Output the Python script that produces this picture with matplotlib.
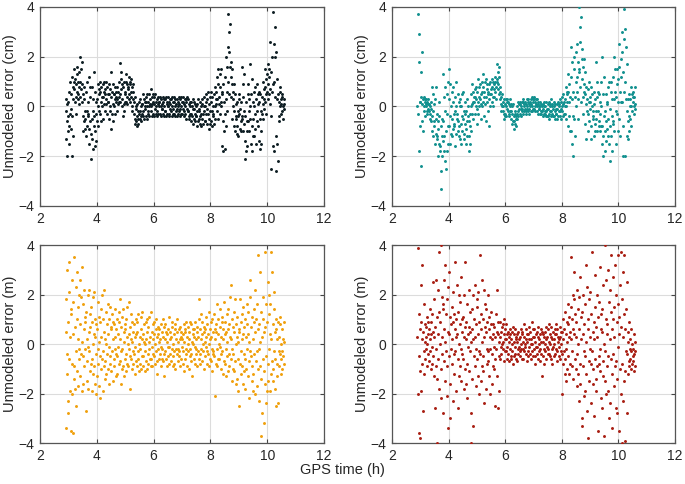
import numpy as np
import matplotlib
matplotlib.use("Agg")
import matplotlib.pyplot as plt

plt.rcParams['font.family'] = ['Liberation Sans', 'DejaVu Sans']

# GPS time span of the record (h); samples are evenly spaced in time
t_start, t_end = 2.9, 10.6

# unmodeled error, one row per 0.1 h, values in time order
err_top_left = [  # cm
    [-0.2, -1.3, 0.3, -2.0, -0.6, 0.1, -1.0, -0.4],
    [0.2, -0.8, -1.5, 0.6, -0.3, 1.0, -0.1, -0.9],
    [0.5, 1.2, -0.4, -2.0, 0.8, -1.2, 0.3, 1.0],
    [0.7, 1.5, 0.2, 1.1, -0.3, 0.9, 0.4, 1.3],
    [0.6, 1.6, 0.3, 1.0, 0.5, 1.4, 0.1, 0.8],
    [1.0, 2.0, 0.4, 1.5, 0.7, 1.8, 0.2, 0.9],
    [0.5, -0.4, -1.0, 0.3, -0.6, 0.8, -0.2, -0.9],
    [-0.5, 0.6, -1.2, -0.2, 1.0, -0.8, 0.2, -0.4],
    [-0.3, 1.2, -0.9, -1.5, 0.4, -0.6, 0.8, -1.1],
    [-2.1, -0.5, 0.8, -1.3, -0.2, -1.7, 0.3, -0.8],
    [1.4, -0.4, -1.6, 0.6, -1.0, 0.2, -1.4, -0.3],
    [0.3, -0.6, 0.9, 0.0, -0.8, 0.5, -0.2, 0.7],
    [0.6, -0.3, 1.0, 0.2, -0.6, 0.8, 0.0, 0.4],
    [0.4, 0.9, -0.5, 0.6, 0.1, 1.0, -0.2, 0.5],
    [0.7, 0.1, 1.0, 0.3, -0.3, 0.8, 0.5, 0.2],
    [0.2, 0.9, -0.5, 0.5, 0.0, 0.7, -0.2, 0.4],
    [1.4, -0.9, 0.6, -0.3, 0.9, 0.1, -0.6, 0.5],
    [0.5, 0.0, 0.8, 0.3, -0.3, 0.6, 0.2, 0.4],
    [0.3, 0.8, -0.2, 0.6, 0.1, 1.0, 0.4, 0.2],
    [0.5, 1.75, 0.2, 1.1, 0.7, 1.4, 0.0, 0.9],
    [0.3, -0.4, 0.8, 0.1, 1.0, -0.2, 0.5, 0.2],
    [0.6, 1.0, 0.2, 1.3, 0.4, 0.9, 0.1, 0.7],
    [0.8, 0.3, 1.2, 0.5, 1.0, 0.2, 0.9, 0.6],
    [0.4, 1.1, 0.0, 0.8, -0.2, 0.6, 0.9, 0.3],
    [0.2, -0.3, -0.7, 0.4, -0.5, -0.1, -0.6, 0.0],
    [-0.4, -0.8, 0.1, -0.5, -0.2, -0.7, 0.2, -0.3],
    [-0.2, -0.5, 0.3, -0.4, 0.0, -0.6, 0.1, -0.3],
    [0.1, -0.4, 0.5, -0.2, 0.3, -0.5, 0.0, 0.2],
    [-0.1, 0.4, -0.4, 0.2, -0.5, 0.5, 0.0, -0.2],
    [0.2, -0.3, 0.5, 0.0, -0.4, 0.3, 0.1, -0.2],
    [0.7, 0.0, -0.4, 0.4, 0.1, -0.3, 0.5, 0.2],
    [0.1, -0.4, 0.4, -0.1, 0.5, -0.3, 0.2, 0.0],
    [-0.2, 0.3, -0.4, 0.1, 0.4, -0.3, 0.0, 0.2],
    [0.2, -0.3, 0.4, 0.0, -0.4, 0.3, -0.1, 0.1],
    [-0.1, 0.4, -0.3, 0.2, -0.4, 0.3, 0.0, -0.2],
    [0.3, -0.2, 0.4, -0.4, 0.1, 0.2, -0.3, 0.0],
    [0.0, 0.4, -0.3, 0.2, -0.4, 0.3, -0.1, 0.1],
    [-0.2, 0.3, 0.0, -0.4, 0.4, -0.1, 0.2, -0.3],
    [0.2, -0.3, 0.4, 0.0, -0.4, 0.3, -0.2, 0.1],
    [-0.1, 0.3, -0.4, 0.2, 0.0, -0.3, 0.4, -0.2],
    [0.1, -0.4, 0.3, -0.1, 0.4, -0.3, 0.0, 0.2],
    [-0.3, 0.2, -0.1, 0.4, -0.4, 0.1, -0.2, 0.3],
    [0.0, -0.3, 0.3, -0.5, 0.2, -0.1, 0.4, -0.2],
    [-0.2, 0.3, -0.4, 0.1, -0.5, 0.2, 0.0, -0.3],
    [-0.3, 0.2, -0.6, 0.0, -0.4, 0.3, -0.7, -0.1],
    [-0.1, -0.5, 0.2, -0.3, -0.6, 0.1, -0.4, 0.0],
    [-0.4, 0.1, -0.8, -0.2, 0.3, -0.6, -0.1, -0.5],
    [-0.2, -0.7, 0.2, -0.4, 0.0, -0.8, -0.3, 0.1],
    [-0.5, 0.3, -0.3, -0.7, 0.0, -0.2, 0.4, -0.6],
    [0.0, -0.6, 0.5, -0.3, 0.2, -0.7, -0.1, 0.3],
    [-0.3, 0.6, -0.9, 0.1, -0.5, 0.4, -0.2, -0.7],
    [0.2, -0.6, 0.6, -0.2, -0.8, 0.4, 0.0, -0.4],
    [-0.3, 0.5, -0.7, 0.8, 0.0, -0.5, 0.3, 0.1],
    [0.6, -0.2, 1.2, 0.3, -0.5, 0.9, 1.5, 0.1],
    [0.4, 1.3, -0.3, 0.8, 0.2, 1.5, 0.0, 0.6],
    [-1.6, 0.5, -0.6, -1.8, 0.9, -1.0, 0.2, -0.3],
    [1.2, -1.7, 2.0, 0.3, -0.8, 1.6, 0.6, -0.2],
    [2.4, 3.7, 1.0, 3.0, 0.5, 2.2, 3.3, 1.6],
    [1.8, 0.4, 1.2, -0.5, 0.9, 1.5, 0.0, 0.6],
    [0.3, -0.8, 0.9, -0.2, -1.0, 0.5, -0.4, 0.1],
    [-0.5, -1.1, 0.2, -0.8, -0.2, -1.2, -0.4, 0.3],
    [-0.3, 0.5, -0.9, -0.1, -0.6, 0.2, -1.0, -0.4],
    [1.6, -0.5, 0.4, -1.0, 0.9, -0.2, 1.3, -0.7],
    [-1.4, -2.1, -0.4, -1.8, 0.2, -1.0, -0.6, -1.6],
    [0.5, -0.6, 0.9, -0.2, -1.0, 0.3, 0.0, -0.5],
    [1.7, -1.5, 0.5, -1.8, 1.1, -0.8, 0.2, -1.2],
    [-0.5, 0.6, -1.2, 0.0, -0.9, 0.8, -0.3, -1.5],
    [0.3, -0.6, 0.9, -0.2, 0.5, -0.8, 0.1, 0.6],
    [-1.4, 0.2, -1.7, -0.5, 0.5, -1.0, -0.2, -1.5],
    [0.4, -0.3, 1.0, 0.1, -0.5, 0.7, 0.3, -0.1],
    [0.8, 0.2, 1.5, 0.5, -0.3, 1.1, 0.6, 1.3],
    [0.9, 1.7, 0.3, 1.2, 0.5, 1.5, 0.1, 0.7],
    [2.6, -0.4, 1.4, -2.5, 0.6, 2.0, -1.6, 0.9],
    [3.8, 1.0, 2.5, -1.8, 3.2, 0.4, 2.0, -1.2],
    [2.2, -2.6, 0.3, -1.5, 1.1, -2.2, 0.5, -0.6],
    [0.2, -0.4, 0.6, 0.0, 0.8, -0.3, 0.3, 0.1],
    [0.4, -0.2, 0.5, 0.0, -0.5, 0.3, 0.1, -0.1],
]

err_top_right = [  # cm
    [0.0, 3.7, -0.3, 2.9, -1.8, 1.8, 0.2, -0.8],
    [0.2, -2.4, 0.4, 1.4, -0.6, 0.1, 2.2, -1.0],
    [0.3, -0.2, 0.4, 0.0, 0.2, -0.4, 0.3, 0.1],
    [0.0, 0.3, -0.3, 0.2, -0.2, 0.1, -0.1, 0.3],
    [-0.2, 0.1, -0.5, 0.0, -0.3, 0.2, -0.6, -0.1],
    [-0.4, 0.8, -1.0, -0.2, 0.5, -1.2, -0.6, 0.1],
    [-0.8, 0.3, -1.5, -0.5, 0.8, -1.1, -0.3, -1.3],
    [-1.2, -0.6, -2.0, -0.9, 0.2, -1.5, -0.4, -1.8],
    [-1.6, -2.6, -0.8, -3.3, -1.2, -2.0, -0.5, -1.4],
    [-0.6, 1.3, -1.8, 0.4, -1.2, -2.2, 0.8, -0.2],
    [-2.5, -1.0, 0.5, -1.8, -0.3, 1.0, -1.5, -0.8],
    [1.5, -0.8, 0.3, -1.5, 0.9, -0.4, 0.0, -1.1],
    [0.6, -0.5, -1.2, 0.2, -0.9, 0.8, -0.3, -0.7],
    [-0.8, 0.4, -1.6, -0.2, 1.0, -1.1, 0.0, -0.5],
    [-0.3, -1.0, 0.5, -0.6, -1.2, 0.2, -0.8, 0.0],
    [-1.3, 0.3, -0.7, -1.5, 0.0, -0.4, -1.0, 0.5],
    [-0.5, 0.6, -1.1, -0.2, -1.3, 0.2, -0.7, -0.3],
    [-0.9, -0.2, -1.5, 0.3, -0.6, -1.2, 0.0, -0.4],
    [-1.8, -0.6, -1.2, -0.3, -1.5, -0.8, 0.0, -1.0],
    [0.5, -0.3, 0.9, 0.1, -0.5, 0.6, 0.2, 0.4],
    [0.2, 0.7, -0.3, 0.4, 0.0, 0.8, 0.3, -0.1],
    [0.6, -0.7, 1.1, 0.2, -0.3, 0.8, 0.4, 0.0],
    [0.3, 0.9, -0.5, 0.5, 0.1, 1.0, 0.0, 0.6],
    [0.8, 0.2, 1.3, -0.4, 0.6, 0.4, 1.0, 0.1],
    [0.4, 1.1, -0.6, 0.7, 0.2, 0.9, -0.2, 0.5],
    [0.6, -0.8, 0.9, 0.3, 1.0, 0.0, 0.5, 0.7],
    [0.5, 1.1, 0.2, 0.8, 0.4, 1.0, 0.0, 0.7],
    [0.9, 0.4, 1.2, 0.6, 1.0, 0.3, 0.8, 1.1],
    [1.0, 1.7, 0.7, 1.4, 0.9, 1.6, 0.5, 1.2],
    [0.8, 0.3, 0.6, -0.2, 0.4, 0.1, 0.5, 0.0],
    [0.2, -0.2, 0.0, -0.5, 0.3, -0.3, 0.1, -0.4],
    [-0.3, 0.3, 0.0, -0.4, 0.2, -0.1, 0.3, -0.2],
    [0.2, -0.3, 0.1, -0.4, 0.3, 0.0, -0.2, 0.1],
    [-0.2, -0.5, 0.0, -0.7, -0.3, 0.1, -0.6, -0.4],
    [-0.6, -0.9, -0.3, -0.7, -0.2, -0.8, -0.5, -0.4],
    [-0.3, 0.0, -0.5, 0.2, -0.2, -0.4, 0.1, -0.1],
    [0.1, -0.3, 0.2, -0.1, -0.4, 0.0, 0.2, -0.2],
    [-0.1, 0.2, -0.3, 0.3, 0.0, -0.2, 0.1, -0.1],
    [0.2, -0.2, 0.1, -0.3, 0.3, 0.0, -0.1, 0.2],
    [-0.2, 0.3, -0.1, 0.1, -0.3, 0.2, 0.0, -0.2],
    [0.1, 0.3, -0.2, 0.4, 0.0, 0.2, -0.1, 0.3],
    [0.3, -0.1, 0.4, 0.0, 0.2, -0.2, 0.1, 0.3],
    [0.0, 0.3, -0.2, 0.1, -0.3, 0.2, -0.1, 0.0],
    [-0.1, 0.2, -0.3, 0.0, -0.2, 0.1, -0.3, 0.0],
    [-0.2, 0.1, -0.4, -0.1, 0.2, -0.3, 0.0, -0.2],
    [-0.3, 0.0, -0.4, 0.2, -0.2, -0.1, -0.4, 0.1],
    [-0.1, -0.4, 0.2, -0.3, -0.5, 0.0, -0.2, 0.1],
    [-0.2, 0.3, -0.4, 0.0, -0.3, 0.1, -0.1, -0.4],
    [0.0, -0.4, 0.2, -0.2, -0.5, 0.1, -0.3, -0.1],
    [-0.3, 0.1, -0.5, -0.1, 0.2, -0.4, 0.0, -0.2],
    [0.1, -0.4, 0.3, -0.2, -0.5, 0.2, -0.1, 0.0],
    [-0.2, 0.4, -0.4, 0.1, 0.5, -0.3, 0.2, 0.0],
    [0.3, -0.3, 0.8, 0.0, -0.5, 0.5, 0.2, 0.6],
    [0.6, -0.8, 1.3, 0.2, -0.4, 0.9, -1.0, 0.4],
    [1.2, -1.0, 2.4, 0.3, -1.5, 1.8, 0.6, -0.4],
    [-2.0, 1.5, -0.5, 2.0, 0.4, -1.2, 1.0, 0.0],
    [2.2, 0.6, 2.5, 1.2, -0.5, 1.8, 0.3, 1.4],
    [4.0, 1.5, 3.2, 0.8, 2.6, 0.2, 3.6, 1.9],
    [1.1, 2.3, 0.4, 1.6, -0.3, 0.9, 1.9, 0.6],
    [0.5, -0.7, 1.4, 0.1, -1.3, 0.8, -0.2, 0.3],
    [-0.3, 0.7, -1.0, 0.2, 1.0, -0.6, 0.4, -0.1],
    [0.2, -0.8, 0.8, -1.3, 0.0, 0.5, -0.5, -0.2],
    [-0.4, 0.6, -1.2, 0.1, -0.7, 0.3, -1.0, -0.2],
    [1.8, -0.5, 0.4, -1.0, 1.0, -0.2, 0.6, -0.8],
    [-0.6, 0.5, -1.0, 0.2, -0.3, 1.0, -0.8, 0.0],
    [-1.5, 2.0, -0.8, -2.0, 0.5, -1.2, 1.2, -0.4],
    [-1.0, -0.2, -1.8, 0.5, -0.6, -1.4, 0.1, -0.9],
    [0.2, -1.2, 0.8, -0.5, -1.5, 1.0, -0.1, -0.8],
    [-2.2, 0.6, -1.2, 1.0, -0.4, -1.8, 0.3, -0.7],
    [1.2, -0.6, 2.0, 0.3, -1.0, 1.5, 0.6, -0.2],
    [0.4, -1.5, 1.5, -0.3, 0.9, -1.0, 0.2, 1.1],
    [1.6, -0.5, 2.5, 0.6, -1.2, 1.9, 0.2, 1.2],
    [3.0, 0.2, 2.2, -2.0, 1.4, -0.8, 2.7, 0.6],
    [3.9, 1.0, -2.0, 3.1, 0.3, 2.4, -1.2, 1.7],
    [-0.2, -1.3, 0.3, -0.6, -1.0, 0.5, -0.4, 0.0],
    [0.3, -0.5, 0.8, 0.0, -0.8, 0.5, -0.2, 0.4],
    [0.2, 0.6, -0.3, 0.4, 0.0, 0.8, 0.1, -0.1],
]

err_bottom_left = [  # m
    [0.5, -3.4, 1.8, -1.2, 3.0, -0.4, -2.3, 0.9],
    [-2.8, 2.1, -0.6, 3.3, -1.9, 0.3, 1.4, -3.5],
    [1.2, -2.0, 2.6, -0.8, 0.4, -3.6, 1.7, -1.4],
    [3.5, -0.9, 0.7, -1.8, 2.3, -0.3, -2.5, 1.0],
    [-1.1, 2.9, 0.2, -1.7, 1.5, -0.6, 2.0, -0.2],
    [2.6, -1.3, 0.8, -0.4, 1.9, -1.9, 0.1, 3.1],
    [-0.5, 1.6, -1.6, 0.6, -0.9, 2.2, -0.2, 1.1],
    [0.9, -2.7, 1.3, -0.7, 0.2, -1.5, 2.0, -0.1],
    [-1.8, 0.5, 2.2, -0.3, 1.2, -1.1, 0.7, -0.8],
    [1.5, -0.6, -1.9, 0.9, 0.0, 1.9, -1.2, 0.4],
    [-0.9, 2.1, 0.3, -1.6, 1.0, -0.4, -2.0, 0.8],
    [0.6, -1.3, 1.7, -0.2, -0.8, 1.1, 0.1, -1.7],
    [-2.2, 0.9, -0.5, 1.4, -1.0, 0.3, 2.0, -0.6],
    [1.0, -0.3, -1.9, 0.5, 2.2, -0.9, 0.2, -1.4],
    [-0.7, 1.3, 0.0, -1.2, 0.8, -0.4, 1.6, -1.0],
    [0.4, -1.6, 1.0, -0.1, -0.8, 1.5, -0.5, 0.7],
    [-1.1, 0.6, -0.3, 1.2, -1.5, 0.2, 0.9, -0.6],
    [0.8, -0.9, 1.4, -0.2, 0.3, -1.3, 0.6, -0.4],
    [-0.5, 1.0, -1.2, 0.4, -0.1, 0.9, -0.8, 1.3],
    [1.8, -0.7, 0.2, -1.6, 0.7, -0.3, 1.1, -1.0],
    [-0.2, 1.4, -0.9, 0.5, -1.3, 0.1, 0.8, -0.6],
    [0.6, -1.1, 1.0, -0.4, 0.3, -0.8, 1.5, 0.0],
    [-0.9, 0.4, -0.2, 1.7, -1.8, 0.7, -0.5, 0.2],
    [1.2, -0.6, 0.1, -1.0, 0.9, -0.3, 0.5, -0.8],
    [-0.4, 0.8, -1.2, 0.3, -0.1, 1.0, -0.7, 0.4],
    [0.5, -0.9, 0.9, -0.3, 1.2, -0.6, 0.0, -1.1],
    [-0.8, 0.3, -0.2, 1.1, -1.0, 0.6, -0.5, 0.2],
    [1.3, -0.5, 0.4, -0.9, 0.1, 0.8, -1.1, 0.0],
    [-0.3, 0.9, -0.7, 0.2, -1.0, 0.5, 1.0, -0.4],
    [0.7, -0.8, 0.1, -0.2, 1.1, -0.6, 0.3, -0.9],
    [-0.6, 1.3, -0.1, 0.5, -0.9, 0.2, -0.4, 0.8],
    [0.4, -0.5, 0.9, -0.8, 0.0, 0.6, -0.3, 1.0],
    [-0.7, 0.3, -1.2, 0.7, -0.2, 0.4, -0.6, 0.1],
    [0.6, -0.4, 0.2, -0.9, 0.8, -0.1, 0.5, -0.6],
    [-0.2, 1.0, -0.7, 0.3, -0.4, 0.7, -1.3, 0.2],
    [0.8, -0.3, 0.5, -0.6, 0.1, -0.9, 0.4, -0.1],
    [-0.5, 0.6, -0.1, 1.1, -0.8, 0.2, -0.4, 0.5],
    [0.3, -0.7, 0.7, -0.2, 0.9, -0.5, 0.0, -0.9],
    [-0.8, 0.4, -0.3, 0.6, -1.0, 0.8, -0.2, 0.2],
    [0.5, -0.4, 1.0, -0.7, 0.1, -0.2, 0.6, -0.5],
    [-0.3, 0.7, -0.9, 0.2, 0.5, -0.6, 0.3, -0.1],
    [0.2, -0.8, 0.4, -0.3, 0.8, -1.1, 0.1, 0.6],
    [-0.6, 0.5, -0.2, 0.9, -0.4, 0.3, -0.9, 0.0],
    [0.7, -0.3, 0.2, -1.0, 0.5, -0.5, 0.9, -0.2],
    [-0.4, 0.8, -0.7, 0.1, -1.3, 0.4, 0.0, 0.6],
    [0.3, -0.6, 0.6, -0.1, 0.9, -0.8, 0.2, -0.4],
    [-0.2, 0.5, -0.9, 0.7, -0.3, 0.3, -0.6, 1.0],
    [1.8, -0.4, 0.6, -0.8, 0.2, 1.2, -0.2, 0.4],
    [-0.7, 0.9, 0.0, -0.3, 0.7, -1.0, 0.5, 0.1],
    [0.6, -0.5, 1.1, -0.1, 0.3, -0.8, 0.8, -0.3],
    [-0.4, 0.4, -0.9, 1.3, 0.0, 0.6, -0.6, 0.2],
    [0.9, -0.7, 0.3, -0.2, 1.0, -1.1, 0.5, -0.4],
    [-0.3, 1.2, -0.5, 0.6, -2.1, 0.2, 0.8, -0.8],
    [0.5, -0.9, 1.6, -0.2, 0.4, -0.6, 1.0, 0.0],
    [-0.6, 0.7, -0.1, 1.4, -1.0, 0.3, -0.4, 0.9],
    [1.1, -0.3, 0.6, -1.2, 0.2, 1.7, -0.7, 0.4],
    [-0.8, 0.9, -0.2, 0.5, -1.3, 1.2, 0.1, -0.5],
    [0.6, -1.1, 1.4, -0.4, 0.8, -0.9, 0.3, 1.9],
    [2.4, -0.6, 0.2, -1.5, 1.0, -0.2, 0.7, -1.0],
    [-0.4, 1.3, -1.1, 0.5, -0.7, 1.8, 0.0, -1.6],
    [0.8, -1.4, 0.3, 1.1, -0.6, 0.1, -1.9, 0.6],
    [-2.5, 0.5, -0.8, 1.8, -0.3, 0.9, -1.2, 0.2],
    [1.2, -0.9, 0.4, -1.6, 1.5, -0.4, 0.7, -1.1],
    [-0.6, 1.0, -1.8, 0.3, -1.0, 0.8, -0.2, 1.6],
    [0.4, -1.3, 1.3, -2.2, 0.1, -0.7, 1.9, -0.3],
    [2.6, -0.5, 0.7, -1.5, 1.1, -0.9, 0.2, -1.9],
    [-1.2, 1.4, -0.4, 0.9, -2.0, 0.5, 2.2, -0.7],
    [1.0, -1.7, 1.6, -0.3, 3.6, -1.0, 0.6, -0.2],
    [-2.3, 0.8, -0.9, 2.9, 0.1, -1.4, 1.3, -3.7],
    [0.3, -2.8, 1.9, -0.6, 1.0, -3.2, 0.5, -1.1],
    [3.7, -1.6, 0.7, -2.4, 1.6, -0.5, -1.9, 0.9],
    [-0.8, 2.5, -1.5, 1.2, -0.2, 2.0, -1.9, 0.4],
    [1.6, -1.2, 3.7, 0.2, -0.7, 2.9, -1.5, 0.8],
    [-1.0, 1.4, -0.3, 2.1, -1.8, 0.5, -0.6, 1.0],
    [-2.5, 0.6, -0.8, 0.2, -1.3, 0.9, -2.4, -0.3],
    [0.3, -0.9, 0.8, -0.4, 1.1, -1.2, 0.0, -0.6],
    [-0.3, 0.6, -1.0, 0.2, -0.5, 0.9, -0.8, 0.1],
]

err_bottom_right = [  # m
    [0.3, -2.0, 3.9, -0.5, 1.2, -3.6, 0.6, -1.1],
    [-3.8, 0.9, 2.4, -1.9, 0.2, 3.2, -0.8, -2.7],
    [0.5, -0.3, 1.6, -1.2, 0.1, 0.8, -0.6, 0.3],
    [-0.2, 0.7, 0.0, 1.1, -0.9, 0.4, -0.4, 0.9],
    [0.6, -0.7, 1.4, 0.2, -0.3, 0.9, -1.0, 0.4],
    [-0.1, 1.2, -0.8, 0.5, 2.5, -0.5, 0.3, -1.3],
    [1.8, -2.6, 0.7, -0.9, 2.6, -0.2, -4.0, 1.1],
    [-1.4, 0.4, 2.2, -0.6, 1.3, -1.8, 3.7, 0.0],
    [0.9, -1.0, 4.0, -2.2, 0.3, 1.9, -0.4, 1.4],
    [-2.8, 1.6, -0.7, 0.6, 2.6, -1.5, 0.1, 3.2],
    [1.2, -0.3, -2.1, 1.8, -0.9, 0.5, 2.3, -3.4],
    [-0.5, 2.9, 0.4, -1.6, 1.1, -3.0, 0.8, -0.2],
    [1.5, -0.8, 0.2, 2.1, -2.3, 0.9, -0.4, 1.2],
    [-1.2, 0.6, 3.3, -0.3, 1.0, -1.9, 0.3, 2.4],
    [0.4, -2.6, 1.3, -0.6, 2.0, 0.0, -1.3, 0.8],
    [-0.9, 1.7, -0.2, 2.7, -1.5, 0.5, 1.0, -0.4],
    [1.1, -0.6, 2.0, -1.8, 0.3, 3.3, -1.0, 0.7],
    [-1.6, 0.2, 0.9, -0.8, 1.6, -2.2, 0.4, -0.1],
    [0.7, 2.2, -1.1, 0.5, -0.3, 1.3, -2.8, 0.1],
    [-4.0, 0.6, 1.4, -1.4, 0.2, -3.3, 2.0, -0.5],
    [1.0, -0.9, 0.3, 2.4, -1.7, 0.8, -0.2, 1.5],
    [-0.6, 1.8, -1.3, 0.4, 2.1, -0.3, 0.9, -2.0],
    [3.6, -0.4, 0.6, -1.5, 1.2, 0.1, 2.6, -0.9],
    [-1.1, 1.0, -0.5, 2.2, 0.3, -2.4, 0.7, 1.6],
    [0.5, -1.8, 1.4, -0.2, 0.9, -0.8, 2.0, -0.3],
    [-0.7, 0.6, -1.3, 1.1, -0.2, 0.3, -2.0, 0.8],
    [1.3, -0.4, 0.2, -1.6, 0.8, -0.9, 0.4, -0.1],
    [-1.0, 0.7, -2.5, 0.3, -0.6, 1.2, -0.2, 0.5],
    [2.2, -1.3, 0.4, -2.6, 0.9, -0.5, 0.1, -1.9],
    [0.3, -0.6, 0.9, -0.1, 0.5, -0.4, 0.7, 0.0],
    [-0.2, 0.8, 0.1, -0.7, 0.4, 1.0, -0.3, 0.2],
    [0.6, -0.3, 0.2, 0.8, -0.6, 0.4, -0.1, 0.5],
    [-0.4, 0.3, -0.7, 0.1, 0.6, -0.2, 0.4, -0.5],
    [0.2, -0.6, 0.5, -0.3, 0.0, 0.7, -0.8, 0.1],
    [-0.5, 0.4, -0.1, 0.6, -0.4, 0.2, -0.6, 0.3],
    [0.1, -0.7, 0.4, -0.2, 0.5, -0.4, 0.2, -0.1],
    [-0.3, 0.3, -0.5, 0.0, 0.6, -0.2, 0.4, -0.6],
    [0.5, -0.2, 0.1, -0.6, 0.3, 0.8, -0.3, 0.0],
    [-0.1, 0.6, -0.4, 0.2, -0.7, 0.4, 0.1, -0.3],
    [0.4, -0.5, 0.7, -0.1, 0.2, -0.4, 0.5, 0.0],
    [-0.6, 0.2, 0.0, 0.9, -0.3, 0.3, -0.5, 0.6],
    [0.3, -0.2, 0.6, -0.5, 0.1, -0.8, 0.4, -0.1],
    [-0.4, 0.5, -0.1, 0.3, -0.6, 0.7, 0.0, -0.3],
    [0.2, -0.7, 0.4, -0.2, 0.6, -0.4, 0.1, 0.5],
    [-1.3, 0.1, -0.5, 0.4, -0.2, 0.3, -0.8, 0.0],
    [0.5, -0.3, 0.2, -0.6, 0.7, -0.1, 0.3, -0.4],
    [-0.2, 0.6, -0.4, 0.1, 0.8, -0.5, 0.0, 0.4],
    [0.3, -0.6, 0.7, -0.2, 0.2, -0.8, 0.5, -0.1],
    [-0.5, 0.2, 0.0, 0.6, -0.4, 0.4, -0.2, 0.8],
    [0.4, -0.3, 0.6, -0.7, 0.1, 0.3, -0.5, 0.2],
    [-0.1, 0.7, -0.6, 0.3, -0.3, 0.5, 0.0, -0.4],
    [0.5, -2.0, 0.2, -0.8, 1.0, -0.3, 0.6, -1.2],
    [-0.6, 1.3, -1.5, 0.4, -0.2, 0.9, -1.0, 0.1],
    [0.8, -0.5, 1.6, -1.2, 0.3, 1.1, -0.8, 0.5],
    [1.5, 0.2, 3.5, -0.9, 1.0, -0.3, 2.0, 0.6],
    [-1.4, 1.8, 0.4, 2.9, -0.6, 1.2, -1.0, 0.3],
    [0.9, -1.7, 2.2, -0.4, 1.4, -1.2, 0.0, 1.9],
    [-2.3, 0.6, -0.8, 2.7, -1.6, 0.2, 1.1, -3.0],
    [1.3, -3.3, 0.4, -0.9, 2.0, -2.1, 0.8, -0.3],
    [-1.9, 1.6, -0.5, 3.2, -1.2, 0.1, 2.3, -2.7],
    [0.6, -3.8, 1.0, -0.7, 1.8, -1.5, 0.3, -0.2],
    [2.1, -0.8, -2.4, 1.2, -0.3, 3.7, -1.6, 0.5],
    [-1.0, 0.9, -2.9, 0.2, 1.5, -0.6, 2.8, -1.9],
    [0.7, -1.4, 0.3, -0.9, 2.0, -3.5, 1.1, -0.5],
    [-0.8, 1.7, -1.1, 3.1, -0.2, 0.6, -2.2, 1.2],
    [1.4, -2.6, 0.5, -0.7, 2.4, -1.3, 0.0, -3.7],
    [-1.5, 4.0, -0.3, 1.0, -2.0, 2.6, 0.4, -0.9],
    [0.8, -1.9, 3.0, -0.5, 1.7, -3.0, 0.2, 2.2],
    [-2.4, 1.3, -0.6, 3.6, -1.2, 0.6, -3.4, 1.0],
    [2.7, -0.4, 1.5, -1.7, 0.3, 3.2, -0.9, -2.6],
    [-0.7, 2.0, -2.8, 0.9, -1.4, 1.6, 3.6, -0.1],
    [1.1, -3.5, 0.4, 2.4, -1.0, 3.7, -2.0, 0.7],
    [-4.0, 1.8, -0.8, 0.3, 2.9, -2.3, 1.2, -1.5],
    [3.6, -1.1, 0.6, -3.9, 1.4, -0.3, 2.5, -2.8],
    [-0.4, 0.5, -1.2, 0.1, -0.7, 0.9, -0.9, -0.2],
    [-0.6, 0.2, -1.0, -0.3, 0.6, -0.8, 0.0, -0.5],
    [-0.2, -0.7, 0.4, -1.1, -0.4, 0.1, -0.9, -0.3],
]

panels = [
    (err_top_left, '#0c1c22', 'Unmodeled error (cm)'),
    (err_top_right, '#11908f', 'Unmodeled error (cm)'),
    (err_bottom_left, '#f0a00c', 'Unmodeled error (m)'),
    (err_bottom_right, '#a81d12', 'Unmodeled error (m)'),
]

# axes boxes in figure fraction [left, bottom, width, height]
boxes = [
    [0.0584, 0.5744, 0.4146, 0.4112],
    [0.5723, 0.5744, 0.4131, 0.4112],
    [0.0584, 0.0847, 0.4146, 0.4090],
    [0.5723, 0.0847, 0.4131, 0.4090],
]

fig = plt.figure(figsize=(6.85, 4.84), dpi=100)

for (rows, color, ylabel), box in zip(panels, boxes):
    vals = np.array(rows).ravel()
    t = np.linspace(t_start, t_end, len(vals))
    ax = fig.add_axes(box)
    ax.scatter(t, vals, s=4.5, c=color, linewidths=0, zorder=3)
    ax.set_xlim(2, 12)
    ax.set_ylim(-4, 4)
    ax.set_xticks([2, 4, 6, 8, 10, 12])
    ax.set_yticks([-4, -2, 0, 2, 4])
    ax.grid(True, color='#dcdcdc', linewidth=0.8, zorder=0)
    ax.set_axisbelow(True)
    ax.tick_params(direction='in', length=3, width=0.8, color='#444444',
                   labelsize=10, labelcolor='#262626', pad=4,
                   top=True, right=True)
    for sp in ax.spines.values():
        sp.set_color('#555555')
        sp.set_linewidth(0.9)
    ax.set_ylabel(ylabel, fontsize=10.5, color='#262626')
    ax.yaxis.set_label_coords(-0.082, 0.5)

fig.text(0.5, 0.028, 'GPS time (h)', ha='center', va='center',
         fontsize=10.5, color='#262626')

fig.savefig('out.png', dpi=100)
